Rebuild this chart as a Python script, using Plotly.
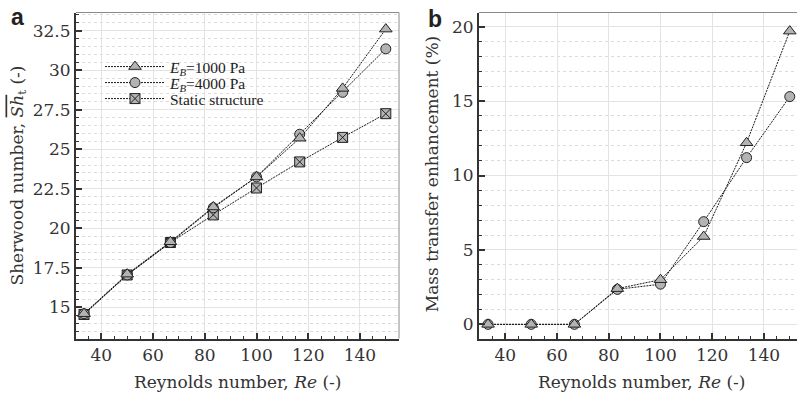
import plotly.graph_objects as go

# ---- data ----
re_vals = [33.3, 50, 66.7, 83.3, 100, 116.7, 133.3, 150]
sh_eb1000 = [14.6, 17.1, 19.15, 21.35, 23.25, 25.7, 28.85, 32.6]
sh_eb4000 = [14.6, 17.05, 19.1, 21.3, 23.25, 25.95, 28.6, 31.35]
sh_static = [14.55, 17.05, 19.1, 20.85, 22.55, 24.2, 25.75, 27.25]
enh_eb1000 = [0, 0, 0, 2.4, 3.0, 5.9, 12.2, 19.7]
enh_eb4000 = [0, 0, 0, 2.35, 2.7, 6.9, 11.2, 15.3]

names = ["<i>E</i><sub><i>B</i></sub>=1000 Pa", "<i>E</i><sub><i>B</i></sub>=4000 Pa", "Static structure"]

W, H = 797, 395
SERIF = "DejaVu Serif"
FILL = "#b3b3b3"
EDGE = "#222222"
LINE = dict(color="#1a1a1a", width=1, dash="2px,1px")

fig = go.Figure()

def mk(symbol, size=10):
    return dict(symbol=symbol, size=size, color=FILL, line=dict(color=EDGE, width=1))

# left panel (drawn bottom to top: static, 4000, 1000)
fig.add_trace(go.Scatter(x=re_vals, y=sh_static, mode="lines+markers", name=names[2],
                         line=LINE, marker=mk("square-x", 10), xaxis="x", yaxis="y", legend="legend3"))
fig.add_trace(go.Scatter(x=re_vals, y=sh_eb4000, mode="lines+markers", name=names[1],
                         line=LINE, marker=mk("circle", 10), xaxis="x", yaxis="y", legend="legend2"))
fig.add_trace(go.Scatter(x=re_vals, y=sh_eb1000, mode="lines+markers", name=names[0],
                         line=LINE, marker=mk("triangle-up", 11), xaxis="x", yaxis="y", legend="legend"))
# right panel
fig.add_trace(go.Scatter(x=re_vals, y=enh_eb4000, mode="lines+markers", name=names[1], showlegend=False,
                         line=LINE, marker=mk("circle", 10), xaxis="x2", yaxis="y2"))
fig.add_trace(go.Scatter(x=re_vals, y=enh_eb1000, mode="lines+markers", name=names[0], showlegend=False,
                         line=LINE, marker=mk("triangle-up", 11), xaxis="x2", yaxis="y2"))

ydom = [1 - 338.5 / H, 1 - 12.5 / H]
tickfont = dict(family=SERIF, size=17, color="#333333")

def xax(dom, rng, anchor):
    return dict(domain=dom, range=rng, anchor=anchor, tick0=0, dtick=20,
                ticks="inside", ticklen=6, tickwidth=1.5, tickcolor="#333",
                showline=True, linecolor="#333", linewidth=2,
                showgrid=True, gridcolor="#e3e3e3", gridwidth=1, zeroline=False,
                tickfont=tickfont,
                minor=dict(dtick=5, tick0=0, ticks="inside", ticklen=3, tickcolor="#333", tickwidth=1, showgrid=False))

def yax(rng, anchor, dt, mdt):
    return dict(domain=ydom, range=rng, anchor=anchor, tick0=0, dtick=dt,
                ticks="inside", ticklen=6, tickwidth=1.5, tickcolor="#333",
                showline=True, linecolor="#333", linewidth=2,
                showgrid=True, gridcolor="#e3e3e3", gridwidth=1, zeroline=False,
                tickfont=tickfont,
                minor=dict(dtick=mdt, tick0=0, ticks="inside", ticklen=3, tickcolor="#333", tickwidth=1,
                           showgrid=True, gridcolor="#dcdcdc", griddash="dot", gridwidth=1))

legfont = dict(family="Liberation Serif", size=15.5, color="#222")
def leg(yc):
    return dict(x=100 / W, y=1 - yc / H, xanchor="left", yanchor="middle", bgcolor="rgba(0,0,0,0)",
                font=legfont, itemwidth=60, borderwidth=0)

fig.update_layout(
    width=W, height=H, margin=dict(l=0, r=0, t=0, b=0),
    paper_bgcolor="white", plot_bgcolor="white",
    font=dict(family=SERIF, size=17, color="#333"),
    xaxis=xax([76 / W, 399 / W], [30.2, 155.1], "y"),
    yaxis=yax([13.03, 33.65], "x", 2.5, 0.5),
    xaxis2=xax([479 / W, 1.0], [29.8, 152.8], "y2"),
    yaxis2=yax([-0.95, 20.95], "x2", 5, 1),
    legend=leg(67), legend2=leg(83), legend3=leg(99),
    shapes=[
        dict(type="rect", xref="paper", yref="paper", x0=95 / W, x1=272 / W, y0=1 - 108 / H, y1=1 - 57 / H,
             fillcolor="white", line=dict(width=0), layer="between"),
        dict(type="line", xref="x domain", yref="y domain", x0=0, x1=1, y0=1, y1=1, line=dict(color="#8a8a8a", width=1)),
        dict(type="line", xref="x domain", yref="y domain", x0=1, x1=1, y0=0, y1=1, line=dict(color="#8a8a8a", width=1)),
        dict(type="line", xref="x2 domain", yref="y2 domain", x0=0, x1=1, y0=1, y1=1, line=dict(color="#8a8a8a", width=1)),
    ],
)

ann = [
    dict(text="<b>a</b>", x=17.5 / W, y=1 - 17 / H, font=dict(family="Liberation Sans", size=23, color="#222")),
    dict(text="<b>b</b>", x=434.5 / W, y=1 - 19 / H, font=dict(family="Liberation Sans", size=23, color="#222")),
    dict(text="Sherwood number, <span style='text-decoration:overline'><i>Sh</i></span><sub>t</sub> (-)",
         x=18 / W, y=1 - 175.5 / H, textangle=-90, font=dict(family=SERIF, size=17, color="#333")),
    dict(text="Mass transfer enhancement (%)", x=431.7 / W, y=1 - 174.5 / H, textangle=-90,
         font=dict(family=SERIF, size=17, color="#333")),
    dict(text="Reynolds number, <i>Re</i> (-)", x=237.5 / W, y=1 - 381.7 / H,
         font=dict(family=SERIF, size=17, color="#333")),
    dict(text="Reynolds number, <i>Re</i> (-)", x=641 / W, y=1 - 381.7 / H,
         font=dict(family=SERIF, size=17, color="#333")),
]
for a in ann:
    a.update(xref="paper", yref="paper", showarrow=False, xanchor="center", yanchor="middle")
    fig.add_annotation(**a)

fig.write_html("out.html")
